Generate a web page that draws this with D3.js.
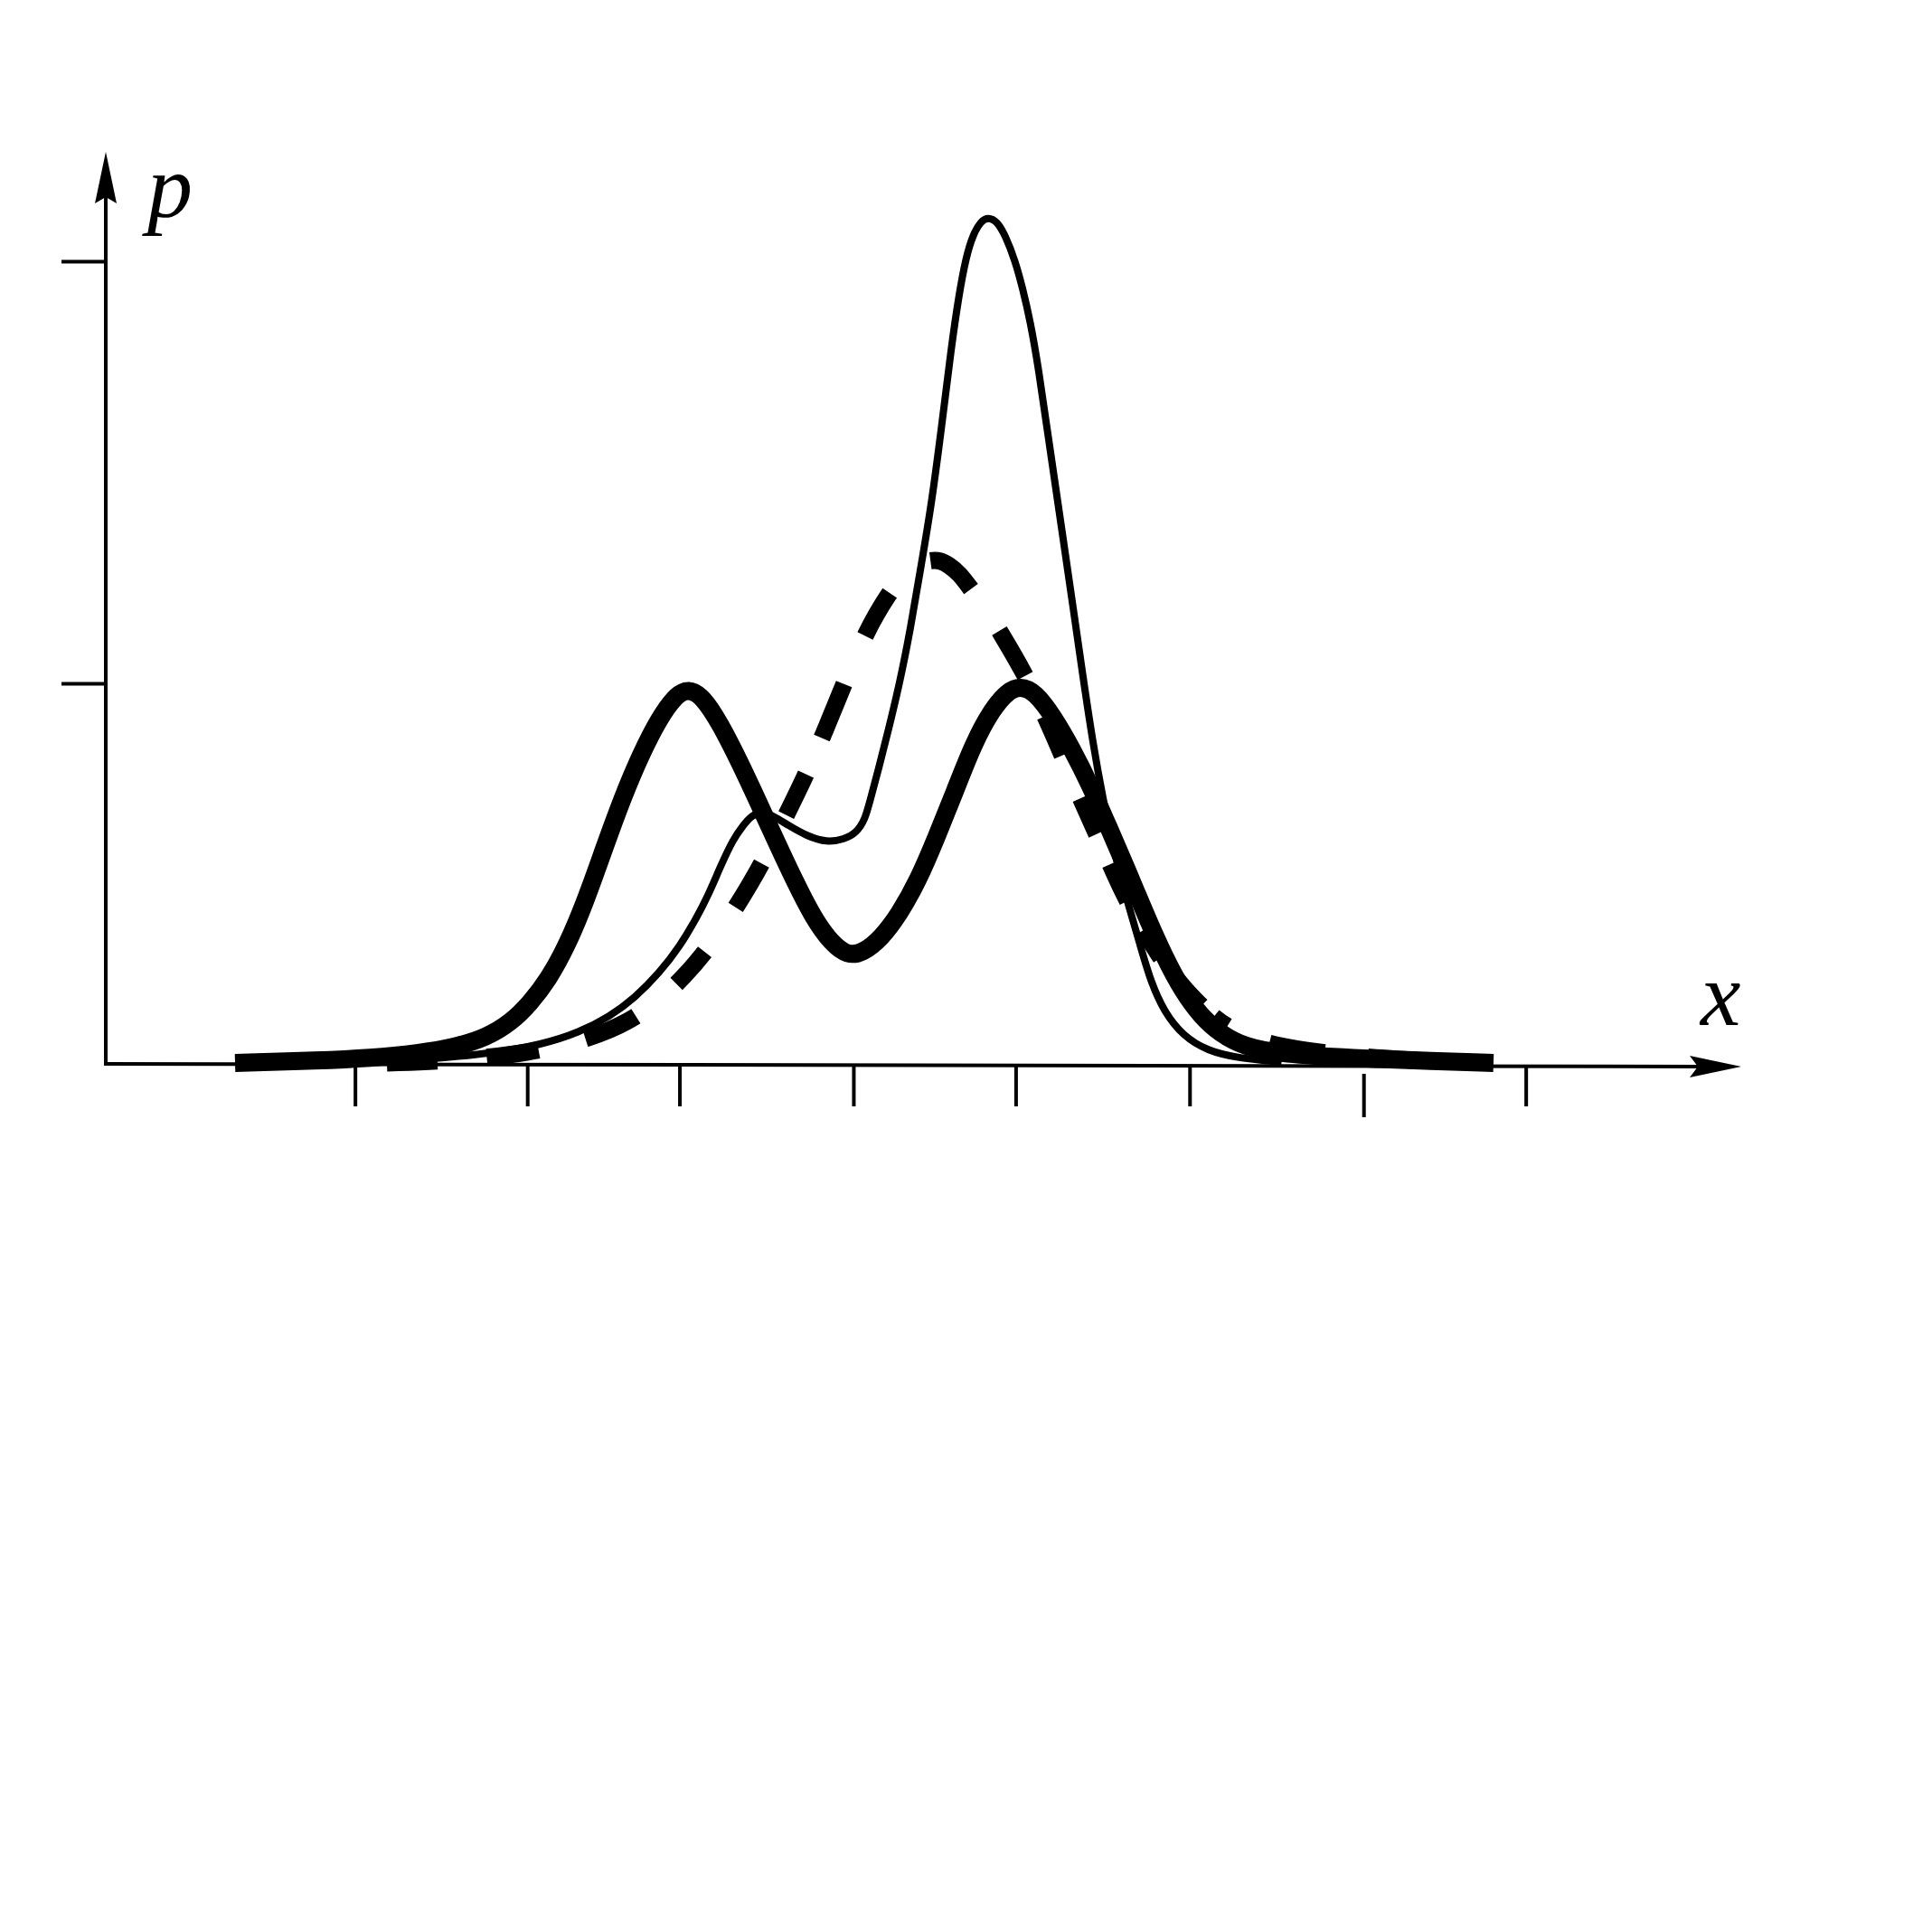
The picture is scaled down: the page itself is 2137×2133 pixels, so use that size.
<!DOCTYPE html>
<html><head><meta charset="utf-8">
<script src="https://cdn.jsdelivr.net/npm/d3@7"></script>
<style>html,body{margin:0;padding:0;background:#fff;}svg{display:block;}</style>
</head><body>
<svg id="chart" width="2137" height="2133"></svg>
<script>
// ---- data (axis units) ----
const xTickValues = [1.49, 2.52, 3.43, 4.47, 5.44, 6.48, 7.52, 8.49];
const yTickValues = [0.4735, 1.0];
const xLabel = "x";
const yLabel = "p";

// thick solid curve (bimodal)
const thickX = [0.773, 1.283, 1.578, 1.872, 2.093, 2.278, 2.425, 2.535, 2.646, 2.757, 2.867, 2.977, 3.088, 3.199, 3.309, 3.405, 3.479, 3.567, 3.677, 3.788, 3.898, 4.009, 4.119, 4.230, 4.340, 4.436, 4.524, 4.635, 4.745, 4.856, 4.966, 5.077, 5.187, 5.298, 5.394, 5.467, 5.556, 5.666, 5.777, 5.887, 5.998, 6.108, 6.219, 6.330, 6.440, 6.550, 6.661, 6.808, 7.030, 7.472, 7.840, 8.297];
const thickY = [0.0, 0.003, 0.006, 0.012, 0.020, 0.032, 0.051, 0.074, 0.104, 0.146, 0.201, 0.266, 0.330, 0.385, 0.430, 0.458, 0.467, 0.458, 0.422, 0.376, 0.327, 0.276, 0.227, 0.181, 0.149, 0.134, 0.137, 0.155, 0.186, 0.227, 0.281, 0.339, 0.398, 0.441, 0.464, 0.470, 0.463, 0.432, 0.392, 0.346, 0.293, 0.240, 0.184, 0.132, 0.089, 0.058, 0.037, 0.020, 0.011, 0.006, 0.003, 0.0];

// thin solid curve (tall peak)
const thinX = [1.872, 2.314, 2.609, 2.830, 3.014, 3.162, 3.309, 3.434, 3.530, 3.604, 3.677, 3.751, 3.810, 3.862, 3.921, 3.987, 4.083, 4.193, 4.311, 4.414, 4.488, 4.540, 4.569, 4.621, 4.680, 4.745, 4.812, 4.871, 4.937, 5.003, 5.055, 5.100, 5.144, 5.187, 5.232, 5.276, 5.328, 5.379, 5.438, 5.482, 5.527, 5.578, 5.630, 5.703, 5.777, 5.843, 5.902, 5.961, 6.035, 6.108, 6.182, 6.248, 6.330, 6.440, 6.587, 6.772, 7.030];
const thinY = [0.004, 0.012, 0.023, 0.038, 0.058, 0.081, 0.112, 0.146, 0.180, 0.210, 0.246, 0.279, 0.296, 0.309, 0.313, 0.309, 0.296, 0.283, 0.275, 0.279, 0.287, 0.304, 0.327, 0.367, 0.416, 0.472, 0.542, 0.616, 0.696, 0.803, 0.892, 0.957, 1.006, 1.034, 1.050, 1.055, 1.050, 1.032, 1.000, 0.966, 0.926, 0.865, 0.788, 0.684, 0.578, 0.481, 0.399, 0.330, 0.258, 0.201, 0.149, 0.101, 0.063, 0.034, 0.015, 0.006, 0.001];

// dashed curve (single peak)
const dashX = [1.681, 2.093, 2.535, 2.904, 3.125, 3.309, 3.456, 3.604, 3.766, 3.921, 4.068, 4.186, 4.304, 4.414, 4.540, 4.687, 4.783, 4.856, 4.930, 4.989, 5.041, 5.107, 5.173, 5.262, 5.343, 5.497, 5.630, 5.740, 5.851, 5.961, 6.072, 6.182, 6.293, 6.403, 6.514, 6.624, 6.735, 6.882, 7.103, 7.472, 7.840];
const dashY = [0.0, 0.003, 0.012, 0.031, 0.051, 0.078, 0.107, 0.143, 0.193, 0.247, 0.309, 0.359, 0.416, 0.473, 0.536, 0.588, 0.612, 0.623, 0.627, 0.627, 0.621, 0.610, 0.591, 0.567, 0.539, 0.485, 0.427, 0.373, 0.319, 0.269, 0.216, 0.173, 0.135, 0.104, 0.078, 0.057, 0.041, 0.028, 0.017, 0.008, 0.003];

// where the dashes of the dashed curve sit (x extents, style only)
const dashRangesX = [[1.681,1.983],[2.278,2.587],[2.867,3.169],[3.412,3.582],[3.766,3.921],[4.068,4.186],[4.281,4.414],[4.540,4.687],[4.930,5.173],[5.343,5.497],[5.615,5.718],[5.828,5.924],[6.005,6.108],[6.204,6.307],[6.403,6.550],[6.624,6.705],[6.956,7.287],[7.545,7.840]];

// ---- drawing ----
const svg = d3.select("#chart");
svg.append("rect").attr("width", 2137).attr("height", 2133).attr("fill", "#fff");

const x = d3.scaleLinear().domain([0, 10]).range([117, 1967]);
const y = d3.scaleLinear().domain([0, 1]).range([1176, 289]);

const axisW = 4;

// x axis line + arrow
const xAxisEnd = 1926;
svg.append("line")
  .attr("x1", x(0)).attr("y1", y(0) + 1)
  .attr("x2", xAxisEnd - 48).attr("y2", y(0) + 4)
  .attr("stroke", "#000").attr("stroke-width", axisW);
svg.append("path")
  .attr("d", `M${xAxisEnd},${y(0)+4} L${xAxisEnd-57},${y(0)-8} L${xAxisEnd-48},${y(0)+4} L${xAxisEnd-57},${y(0)+16} Z`)
  .attr("fill", "#000");

// y axis line + arrow
const yTop = 168;
svg.append("line")
  .attr("x1", x(0)).attr("y1", y(0) + 3)
  .attr("x2", x(0)).attr("y2", yTop + 50)
  .attr("stroke", "#000").attr("stroke-width", axisW);
svg.append("path")
  .attr("d", `M${x(0)},${yTop} L${x(0)+12},${yTop+57} L${x(0)},${yTop+50} L${x(0)-12},${yTop+57} Z`)
  .attr("fill", "#000");

// x ticks (d3 axis, no labels)
const gx = svg.append("g")
  .attr("transform", `translate(0,${y(0) + 2})`)
  .call(d3.axisBottom(x).tickValues(xTickValues).tickSize(46).tickFormat(""));
gx.select(".domain").remove();
gx.selectAll(".tick line").attr("stroke", "#000").attr("stroke-width", axisW);
gx.selectAll(".tick").filter((d, i) => i === 6).select("line")
  .attr("y1", 10).attr("y2", 58);

// y ticks
const gy = svg.append("g")
  .attr("transform", `translate(${x(0)},0)`)
  .call(d3.axisLeft(y).tickValues(yTickValues).tickSize(49).tickFormat(""));
gy.select(".domain").remove();
gy.selectAll(".tick line").attr("stroke", "#000").attr("stroke-width", axisW);

// curves
const line = d3.line().x(d => x(d[0])).y(d => y(d[1])).curve(d3.curveBasis);
const zip = (a, b) => a.map((v, i) => [v, b[i]]);

svg.append("path").datum(zip(thinX, thinY))
  .attr("d", line).attr("fill", "none").attr("stroke", "#000")
  .attr("stroke-width", 8).attr("stroke-linejoin", "round");

svg.append("path").datum(zip(thickX, thickY))
  .attr("d", line).attr("fill", "none").attr("stroke", "#000")
  .attr("stroke-width", 20).attr("stroke-linecap", "butt").attr("stroke-linejoin", "round");

const dashPath = svg.append("path").datum(zip(dashX, dashY))
  .attr("d", line).attr("fill", "none").attr("stroke", "#000")
  .attr("stroke-width", 19).attr("stroke-linecap", "butt");

// build the dash pattern from the dash extents
(function () {
  const node = dashPath.node();
  const total = node.getTotalLength();
  function lenAtX(xv) {
    const px = x(xv);
    let lo = 0, hi = total;
    for (let k = 0; k < 40; k++) {
      const mid = (lo + hi) / 2;
      if (node.getPointAtLength(mid).x < px) lo = mid; else hi = mid;
    }
    return (lo + hi) / 2;
  }
  const arr = [0];
  let pos = 0;
  dashRangesX.forEach(([a, b]) => {
    const la = lenAtX(a), lb = lenAtX(b);
    arr.push(Math.max(0, la - pos), Math.max(0, lb - la));
    pos = lb;
  });
  arr.push(total + 10);
  dashPath.attr("stroke-dasharray", arr.map(v => v.toFixed(2)).join(","));
})();

// labels
svg.append("text").attr("x", 163).attr("y", 240)
  .attr("font-family", "'Liberation Serif', 'Times New Roman', serif")
  .attr("font-style", "italic").attr("font-size", 100).attr("fill", "#000")
  .text(yLabel);
svg.append("text").attr("x", 1881).attr("y", 1134)
  .attr("font-family", "'Liberation Serif', 'Times New Roman', serif")
  .attr("font-style", "italic").attr("font-size", 100).attr("fill", "#000")
  .text(xLabel);
</script>
</body></html>
